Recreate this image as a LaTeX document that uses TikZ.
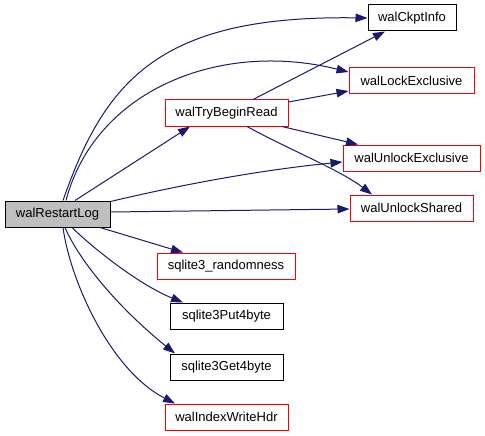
\documentclass[tikz,border=0pt]{standalone}
\usepackage{fontspec}
\setmainfont{Liberation Sans}
\usetikzlibrary{arrows.meta}
\definecolor{edgeblue}{RGB}{25,25,112}
\definecolor{boxred}{RGB}{255,0,0}
\definecolor{rootgray}{RGB}{191,191,191}
\tikzset{
  fn/.style={draw=black, line width=1pt, fill=white, rectangle, inner sep=0pt,
    minimum height=26pt, font=\fontsize{13}{15}\selectfont},
  redfn/.style={fn, draw=boxred},
  rootfn/.style={fn, fill=rootgray},
  e/.style={draw=edgeblue, line width=1pt, -{Triangle[length=12pt,width=8.5pt]}}
}
\begin{document}
\begin{tikzpicture}[x=1pt,y=-1pt]
\useasboundingbox (0,0) rectangle (485,436);
\node[rootfn, minimum width=105pt] (r)  at (57.5,214) {walRestartLog};
\node[fn,     minimum width=88pt]  (ck) at (412,18)   {walCkptInfo};
\node[redfn,  minimum width=125pt] (le) at (411.5,81) {walLockExclusive};
\node[redfn,  minimum width=123pt] (tb) at (226.5,113) {walTryBeginRead};
\node[redfn,  minimum width=137pt] (ue) at (411.5,158) {walUnlockExclusive};
\node[redfn,  minimum width=123pt] (us) at (411.5,208) {walUnlockShared};
\node[redfn,  minimum width=138pt] (sr) at (226,266)  {sqlite3\_randomness};
\node[fn,     minimum width=113pt] (p4) at (226.5,316) {sqlite3Put4byte};
\node[fn,     minimum width=113pt] (g4) at (226.5,367) {sqlite3Get4byte};
\node[redfn,  minimum width=123pt] (ih) at (226.5,417) {walIndexWriteHdr};

\draw[e] ([xshift=5.5pt]r.north) .. controls (105,80) and (160,15) .. (ck.west);
\draw[e] ([xshift=8.5pt]r.north) .. controls (95,90) and (220,40) .. ([yshift=9pt]le.west);
\draw[e] ([xshift=17.5pt]r.north) -- ([xshift=-36.5pt]tb.south);
\draw[e] ([yshift=-1pt]r.north east) .. controls (180,185) and (260,170) .. ([yshift=-4pt]ue.west);
\draw[e] ([yshift=2pt]r.east) -- ([yshift=-1pt]us.west);
\draw[e] ([xshift=42.5pt]r.south) -- ([xshift=-43pt]sr.north);
\draw[e] ([xshift=14.5pt]r.south) .. controls (95,250) and (140,285) .. ([xshift=-43.5pt]p4.north);
\draw[e] ([xshift=7.5pt]r.south) .. controls (78,258) and (115,305) .. ([xshift=-51.5pt]g4.north);
\draw[e] ([xshift=5.5pt]r.south) .. controls (70,280) and (110,370) .. ([xshift=-51.5pt]ih.north);

\draw[e] ([xshift=26.5pt]tb.north) -- ([xshift=-27pt]ck.south);
\draw[e] ([yshift=11pt]tb.east) -- ([yshift=-10pt]le.west);
\draw[e] ([xshift=55.5pt]tb.south) -- ([xshift=-53.5pt]ue.north);
\draw[e] ([xshift=20.5pt]tb.south) .. controls (290,150) and (340,170) .. ([xshift=-39.5pt]us.north);
\end{tikzpicture}
\end{document}
